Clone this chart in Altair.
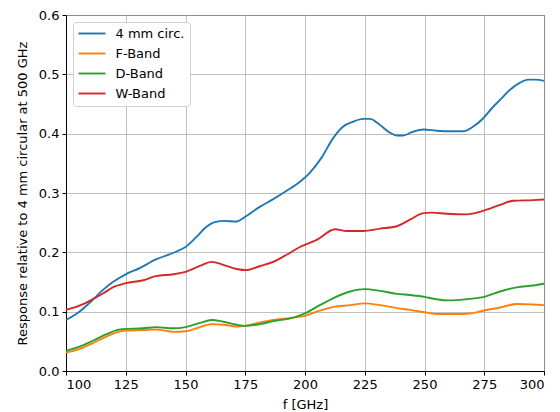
import altair as alt
import pandas as pd

# Frequency grids (GHz) and relative response for each measured horn
f_circ = [100, 105.6, 111.2, 115, 119.6, 125, 130.6, 137.6, 146, 150, 154.6, 158.8, 161.6,
          165.8, 171.4, 175, 181.2, 186, 192, 197.9, 202, 207, 211.7, 216, 220, 224.4,
          227.2, 231, 235, 238.4, 241.1, 245, 249.5, 255, 260.7, 266.2, 270.4, 274.6,
          278, 281.6, 285.8, 290, 293.4, 296.5, 300]
r_circ = [0.086, 0.100, 0.120, 0.135, 0.150, 0.163, 0.173, 0.188, 0.201, 0.209, 0.226,
          0.243, 0.250, 0.253, 0.252, 0.260, 0.277, 0.288, 0.303, 0.319, 0.334, 0.360,
          0.392, 0.412, 0.420, 0.425, 0.425, 0.416, 0.403, 0.397, 0.397, 0.403, 0.407,
          0.405, 0.404, 0.404, 0.412, 0.426, 0.442, 0.457, 0.474, 0.486, 0.491, 0.491, 0.489]

f_f = [100, 105.6, 111.2, 116.9, 121.2, 125, 132.3, 137.6, 144.9, 150, 156, 160.9, 165.8,
       171.4, 175, 181.2, 186.7, 195.1, 200, 204.9, 211.9, 218.9, 225, 231.4, 238.4, 243.9,
       250, 256.3, 261.9, 269, 275, 281.6, 288.6, 295.5, 300]
r_f = [0.031, 0.037, 0.047, 0.058, 0.065, 0.068, 0.069, 0.070, 0.066, 0.067, 0.074, 0.079,
       0.078, 0.075, 0.076, 0.082, 0.086, 0.090, 0.093, 0.100, 0.108, 0.111, 0.114, 0.111,
       0.106, 0.103, 0.099, 0.096, 0.096, 0.097, 0.102, 0.107, 0.113, 0.112, 0.111]

f_d = [100, 105.6, 111.2, 116.9, 121.2, 125, 132.3, 137.6, 144.9, 150, 156, 160.9, 165.8,
       171.4, 175, 181.2, 186.7, 195.1, 200, 204.9, 211.9, 218.9, 225, 231.4, 238.4, 243.9,
       250, 254.9, 260.5, 267.5, 275, 281.6, 288.6, 295.5, 300]
r_d = [0.034, 0.041, 0.051, 0.062, 0.069, 0.071, 0.072, 0.074, 0.072, 0.074, 0.081, 0.086,
       0.083, 0.078, 0.076, 0.079, 0.084, 0.090, 0.097, 0.108, 0.123, 0.134, 0.138, 0.135,
       0.130, 0.128, 0.125, 0.121, 0.119, 0.121, 0.125, 0.134, 0.141, 0.144, 0.147]

f_w = [100, 105.6, 111.2, 115.6, 119.6, 125, 132.3, 137.6, 144.9, 150, 156, 160.9, 165.8,
       171.4, 175.4, 181.2, 186.7, 192.3, 197.9, 204.9, 212.6, 217.4, 224.4, 231.4, 238.4,
       243.9, 249.5, 253, 259.3, 267.7, 274.6, 281.6, 287.2, 295.5, 300]
r_w = [0.103, 0.110, 0.121, 0.131, 0.141, 0.148, 0.153, 0.160, 0.163, 0.167, 0.177, 0.184,
       0.179, 0.172, 0.170, 0.177, 0.184, 0.196, 0.209, 0.221, 0.239, 0.236, 0.236, 0.240,
       0.244, 0.255, 0.266, 0.267, 0.265, 0.264, 0.270, 0.280, 0.287, 0.288, 0.289]

series = ["4 mm circ.", "F-Band", "D-Band", "W-Band"]
colors = ["#1f77b4", "#ff7f0e", "#2ca02c", "#d62728"]
x_ticks = [100, 125, 150, 175, 200, 225, 250, 275, 300]
y_ticks = [0.0, 0.1, 0.2, 0.3, 0.4, 0.5, 0.6]

frames = []
for name, fs, rs in zip(series, [f_circ, f_f, f_d, f_w], [r_circ, r_f, r_d, r_w]):
    frames.append(pd.DataFrame({"f": fs, "r": rs, "horn": name}))
df = pd.concat(frames, ignore_index=True)

font = "DejaVu Sans"

chart = (
    alt.Chart(df)
    .mark_line(strokeWidth=1.9, interpolate="monotone")
    .encode(
        x=alt.X("f:Q", title="f [GHz]",
                scale=alt.Scale(domain=[100, 300], nice=False, zero=False),
                axis=alt.Axis(values=x_ticks, format="d")),
        y=alt.Y("r:Q", title="Response relative to 4 mm circular at 500 GHz",
                scale=alt.Scale(domain=[0, 0.6], nice=False),
                axis=alt.Axis(values=y_ticks, format=".1f")),
        color=alt.Color("horn:N", title=None,
                        scale=alt.Scale(domain=series, range=colors),
                        sort=series),
        detail="horn:N",
    )
    .properties(width=478, height=356,
                padding={"left": 66, "top": 15, "right": 16, "bottom": 41},
                autosize=alt.AutoSizeParams(type="none"))
    .configure_view(stroke="black", strokeWidth=1)
    .configure_axis(
        labelFont=font, titleFont=font, labelFontSize=13, titleFontSize=13,
        titleFontWeight="normal", labelColor="black", titleColor="black",
        domainColor="black", tickColor="black", tickSize=4, labelPadding=3,
        gridColor="#b0b0b0", gridWidth=0.8, gridOpacity=1,
    )
    .configure_axisX(titlePadding=7)
    .configure_axisY(titlePadding=9)
    .configure_legend(
        orient="none", legendX=7, legendY=7,
        fillColor="white", strokeColor="#d0d0d0", cornerRadius=3,
        padding=5, labelFont=font, labelFontSize=13, labelColor="black",
        # short horizontal stroke drawn as a custom path so rows stay compact
        symbolType="M-2.7,0L2.7,0", symbolSize=100, symbolStrokeWidth=1.9,
        symbolOffset=7.5, rowPadding=6, labelOffset=17,
    )
)

chart.save("out.html", embed_options={"renderer": "svg", "actions": False})
